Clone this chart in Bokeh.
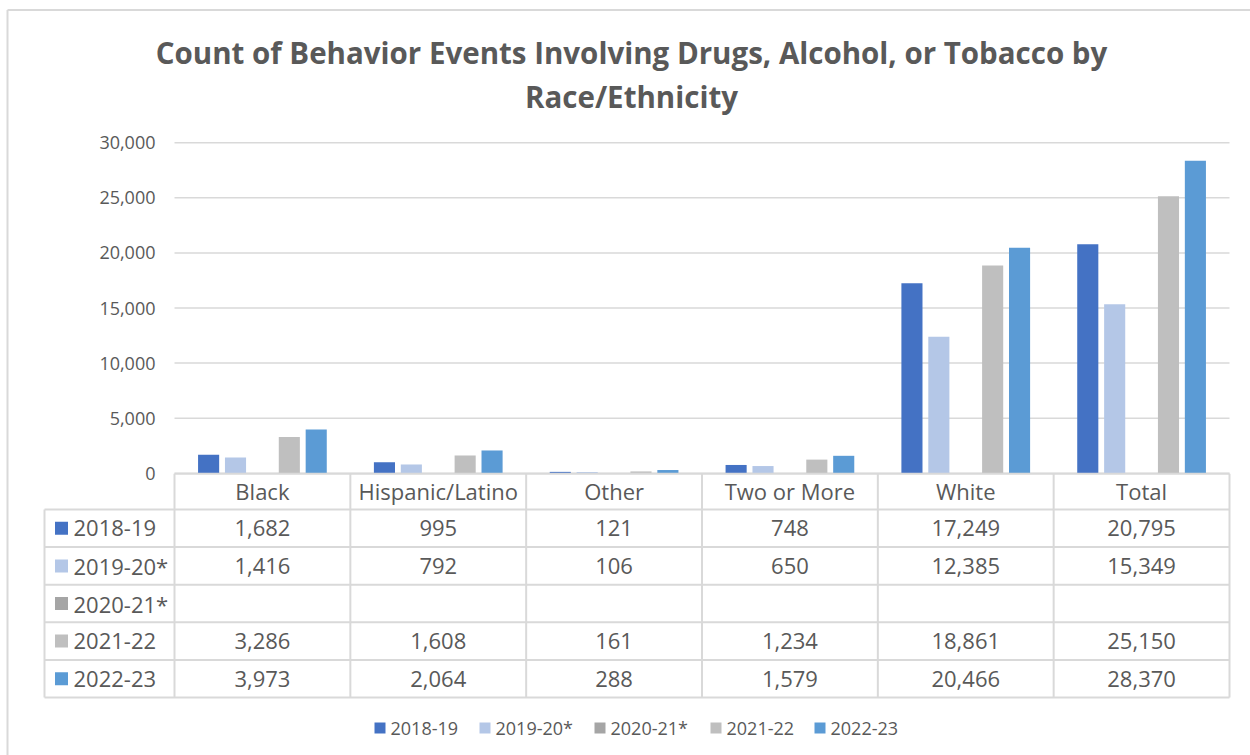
import numpy as np
from bokeh.plotting import figure
from bokeh.models import Range1d, ColumnDataSource
from bokeh.core.properties import value
from bokeh.embed import file_html
from bokeh.resources import INLINE

# ---- data -------------------------------------------------------------
categories = ["Black", "Hispanic/Latino", "Other", "Two or More", "White", "Total"]
seasons = ["2018-19", "2019-20*", "2020-21*", "2021-22", "2022-23"]
season_colors = ["#4472C4", "#B4C7E7", "#A5A5A5", "#BFBFBF", "#5B9BD5"]

counts_2018_19 = [1682, 995, 121, 748, 17249, 20795]
counts_2019_20 = [1416, 792, 106, 650, 12385, 15349]
counts_2020_21 = [None, None, None, None, None, None]   # no events reported
counts_2021_22 = [3286, 1608, 161, 1234, 18861, 25150]
counts_2022_23 = [3973, 2064, 288, 1579, 20466, 28370]
series = [counts_2018_19, counts_2019_20, counts_2020_21, counts_2021_22, counts_2022_23]

y_ticks = [0, 5000, 10000, 15000, 20000, 25000, 30000]
title_lines = ["Count of Behavior Events Involving Drugs, Alcohol, or Tobacco by",
               "Race/Ethnicity"]

# ---- page geometry (pixels) --------------------------------------------
W, H = 1250, 755
plot_left, plot_right = 174, 1229
zero_px, top_px = 472.7, 142.3
y_max = 30000
n_cat = len(categories)
cat_w = (plot_right - plot_left) / n_cat
per_px = y_max / (zero_px - top_px)

TEXT = "#595959"
LINE = "#D9D9D9"
FONT = value("Open Sans")

p = figure(width=W, height=H, output_backend="svg", toolbar_location=None,
           x_range=Range1d(-plot_left / cat_w, (W - plot_left) / cat_w),
           y_range=Range1d(-(H - zero_px) * per_px, zero_px * per_px),
           x_axis_type=None, y_axis_type=None, min_border=0,
           outline_line_color=None, background_fill_color="white",
           border_fill_color="white")
p.extra_x_ranges = {"px": Range1d(0, W)}
p.extra_y_ranges = {"py": Range1d(H, 0)}

# outer chart border
p.segment(x0=[7, 7], y0=[9.5, 9.5], x1=[W, 7], y1=[9.5, H],
          x_range_name="px", y_range_name="py", line_color=LINE, line_width=2)

# title
p.text(x=[631, 631], y=[52, 96], text=title_lines, x_range_name="px",
       y_range_name="py", text_align="center", text_baseline="middle",
       text_font=FONT, text_font_style="bold", text_font_size="29.5px",
       text_color=TEXT)

# value gridlines and tick labels
p.segment(x0=0, x1=n_cat, y0=y_ticks, y1=y_ticks, line_color=LINE, line_width=1.5)
p.text(x=155, y=y_ticks, text=[f"{t:,}" for t in y_ticks], x_range_name="px",
       text_align="right", text_baseline="middle", text_font=FONT,
       text_font_size="18px", text_color=TEXT)

# clustered bars
bar_step, bar_w = 0.153, 0.12
centers = np.arange(n_cat) + 0.5
for i, (vals, col) in enumerate(zip(series, season_colors)):
    tops = np.array([np.nan if v is None else v for v in vals], dtype=float)
    p.vbar(x=centers + (i - 2) * bar_step, top=tops, bottom=0, width=bar_w,
           fill_color=col, line_color=None)

# ---- data table below the chart ---------------------------------------
header_top, header_bot = 473.3, 509
row_edges = [509, 546.6, 584.2, 621.8, 659.4, 697]
row_mid = [(a + b) / 2 for a, b in zip(row_edges[:-1], row_edges[1:])]
key_left = 44

# horizontal rules
p.segment(x0=0, x1=n_cat, y0=header_top, y1=header_top, y_range_name="py",
          line_color=LINE, line_width=2)
p.segment(x0=key_left, x1=plot_right, y0=row_edges, y1=row_edges,
          x_range_name="px", y_range_name="py", line_color=LINE, line_width=2)
# vertical rules
p.segment(x0=np.arange(n_cat + 1), x1=np.arange(n_cat + 1), y0=header_top,
          y1=row_edges[-1], y_range_name="py", line_color=LINE, line_width=2)
p.segment(x0=key_left, x1=key_left, y0=row_edges[0], y1=row_edges[-1],
          x_range_name="px", y_range_name="py", line_color=LINE, line_width=2)

# category header
p.text(x=centers, y=(header_top + header_bot) / 2 - 1, text=categories,
       y_range_name="py", text_align="center", text_baseline="middle",
       text_font=FONT, text_font_size="22px", text_color=TEXT)

# series keys and names
p.rect(x=61, y=row_mid, width=13, height=13, fill_color=season_colors,
       line_color=None, x_range_name="px", y_range_name="py")
p.text(x=73, y=row_mid, text=seasons, x_range_name="px", y_range_name="py",
       text_align="left", text_baseline="middle", text_font=FONT,
       text_font_size="22px", text_color=TEXT)

# cell values
cx, cy, ct = [], [], []
for r, vals in enumerate(series):
    for c, v in enumerate(vals):
        cx.append(centers[c])
        cy.append(row_mid[r])
        ct.append("" if v is None else f"{v:,}")
p.text(x="x", y="y", text="t", source=ColumnDataSource(dict(x=cx, y=cy, t=ct)),
       y_range_name="py", text_align="center", text_baseline="middle",
       text_font=FONT, text_font_size="22px", text_color=TEXT)

# ---- legend -----------------------------------------------------------
legend_x = [374, 479, 594, 710, 814]
legend_y = 727.5
p.rect(x=[x + 5.5 for x in legend_x], y=legend_y, width=11, height=11,
       fill_color=season_colors, line_color=None, x_range_name="px",
       y_range_name="py")
p.text(x=[x + 16 for x in legend_x], y=legend_y, text=seasons,
       x_range_name="px", y_range_name="py", text_align="left",
       text_baseline="middle", text_font=FONT, text_font_size="18px",
       text_color=TEXT)

open("out.html", "w").write(file_html(p, INLINE))
